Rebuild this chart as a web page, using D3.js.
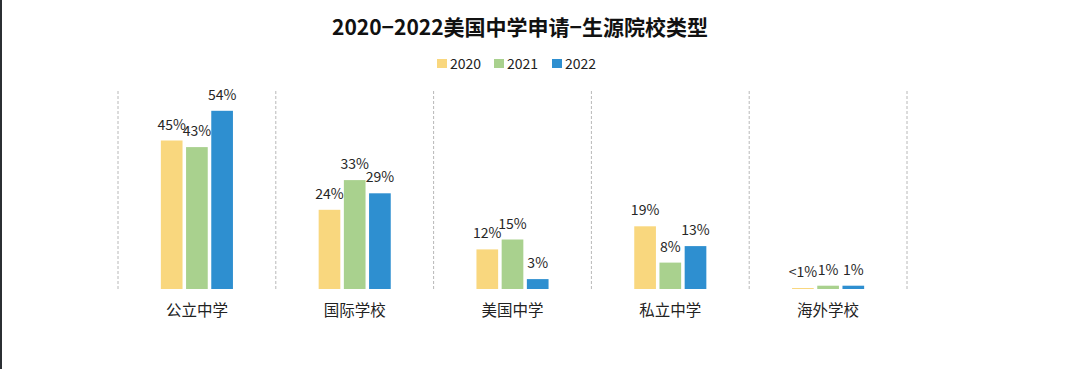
<!DOCTYPE html>
<html><head><meta charset="utf-8">
<script src="https://cdn.jsdelivr.net/npm/d3@7/dist/d3.min.js"></script>
<style>
html,body{margin:0;padding:0;background:#fff;}
svg{display:block;font-family:"Noto Sans CJK SC","Open Sans",sans-serif;}
</style></head>
<body>
<svg id="chart" width="1080" height="369"></svg>
<script>
const title = "2020−2022美国中学申请−生源院校类型";
const categories = ["公立中学", "国际学校", "美国中学", "私立中学", "海外学校"];
const seriesNames = ["2020", "2021", "2022"];
const values2020 = [45, 24, 12, 19, 0.3];
const values2021 = [43, 33, 15, 8, 1];
const values2022 = [54, 29, 3, 13, 1];
const labels2020 = ["45%", "24%", "12%", "19%", "<1%"];
const labels2021 = ["43%", "33%", "15%", "8%", "1%"];
const labels2022 = ["54%", "29%", "3%", "13%", "1%"];
const colors = ["#F9D77E", "#A9D18E", "#2E8FD0"];

const series = [
  {name: seriesNames[0], values: values2020, labels: labels2020},
  {name: seriesNames[1], values: values2021, labels: labels2021},
  {name: seriesNames[2], values: values2022, labels: labels2022}
];

const svg = d3.select("#chart");
const W = 1080, H = 369;

svg.append("rect").attr("x", 0).attr("y", 0).attr("width", 2).attr("height", H).attr("fill", "#2b2f33");

const x0 = d3.scaleBand().domain(categories).range([118, 907]).padding(0);
const x1 = d3.scaleBand().domain(seriesNames).range([0, x0.bandwidth()])
  .paddingInner(0.14).paddingOuter(1.7);
const y = d3.scaleLinear().domain([0, 60]).range([289, 91]);

// separators
const seps = categories.map(c => x0(c)).concat([x0.range()[1]]);
svg.append("g").selectAll("line").data(seps).join("line")
  .attr("x1", d => d).attr("x2", d => d)
  .attr("y1", y(60)).attr("y2", y(0))
  .attr("stroke", "#b8b8b8").attr("stroke-width", 1).attr("stroke-dasharray", "3,2");

// bars
series.forEach((s, si) => {
  const g = svg.append("g");
  g.selectAll("rect").data(s.values).join("rect")
    .attr("x", (d, i) => x0(categories[i]) + x1(s.name))
    .attr("width", x1.bandwidth())
    .attr("y", d => y(d))
    .attr("height", d => y(0) - y(d))
    .attr("fill", colors[si]);
  g.selectAll("text").data(s.values).join("text")
    .attr("x", (d, i) => x0(categories[i]) + x1(s.name) + x1.bandwidth() / 2)
    .attr("y", d => y(d) - 11)
    .attr("text-anchor", "middle")
    .attr("font-size", 14)
    .attr("fill", "#262626")
    .text((d, i) => s.labels[i]);
});

// category axis labels
svg.append("g").selectAll("text").data(categories).join("text")
  .attr("x", d => x0(d) + x0.bandwidth() / 2)
  .attr("y", 316)
  .attr("text-anchor", "middle")
  .attr("font-size", 15.5)
  .attr("fill", "#222")
  .text(d => d);

// title
svg.append("text").attr("x", 520).attr("y", 35).attr("text-anchor", "middle")
  .attr("font-size", 21).attr("font-weight", 600).attr("fill", "#111").text(title);

// legend
const legendX = [437, 494, 552];
const lg = svg.append("g").selectAll("g").data(seriesNames).join("g")
  .attr("transform", (d, i) => `translate(${legendX[i]},59)`);
lg.append("rect").attr("width", 10).attr("height", 9).attr("fill", (d, i) => colors[i]);
lg.append("text").attr("x", 13).attr("y", 9.5).attr("font-size", 14).attr("fill", "#222").text(d => d);
</script>
</body></html>
